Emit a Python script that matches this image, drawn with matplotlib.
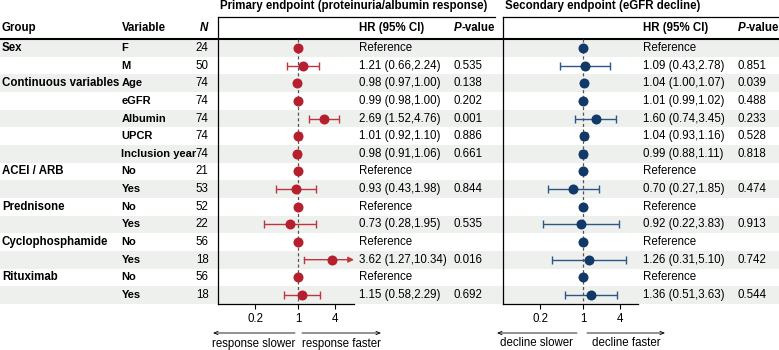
import numpy as np
import matplotlib
matplotlib.use("Agg")
import matplotlib.pyplot as plt
from matplotlib.patches import Rectangle

plt.rcParams['font.family'] = ['Liberation Sans', 'DejaVu Sans']
plt.rcParams['font.size'] = 8.3

nan = np.nan

# table data
groups = ["Sex", "", "Continuous variables", "", "", "", "", "ACEI / ARB", "",
          "Prednisone", "", "Cyclophosphamide", "", "Rituximab", ""]
variables = ["F", "M", "Age", "eGFR", "Albumin", "UPCR", "Inclusion year",
             "No", "Yes", "No", "Yes", "No", "Yes", "No", "Yes"]
n_pat = [24, 50, 74, 74, 74, 74, 74, 21, 53, 52, 22, 56, 18, 56, 18]

# primary endpoint
hr1 = [1, 1.21, 0.98, 0.99, 2.69, 1.01, 0.98, 1, 0.93, 1, 0.73, 1, 3.62, 1, 1.15]
lo1 = [nan, 0.66, 0.97, 0.98, 1.52, 0.92, 0.91, nan, 0.43, nan, 0.28, nan, 1.27, nan, 0.58]
hi1 = [nan, 2.24, 1.00, 1.00, 4.76, 1.10, 1.06, nan, 1.98, nan, 1.95, nan, 10.34, nan, 2.29]
p1 = ["", "0.535", "0.138", "0.202", "0.001", "0.886", "0.661", "", "0.844",
      "", "0.535", "", "0.016", "", "0.692"]

# secondary endpoint
hr2 = [1, 1.09, 1.04, 1.01, 1.60, 1.04, 0.99, 1, 0.70, 1, 0.92, 1, 1.26, 1, 1.36]
lo2 = [nan, 0.43, 1.00, 0.99, 0.74, 0.93, 0.88, nan, 0.27, nan, 0.22, nan, 0.31, nan, 0.51]
hi2 = [nan, 2.78, 1.07, 1.02, 3.45, 1.16, 1.11, nan, 1.85, nan, 3.83, nan, 5.10, nan, 3.63]
p2 = ["", "0.851", "0.039", "0.488", "0.233", "0.528", "0.818", "", "0.474",
      "", "0.913", "", "0.742", "", "0.544"]

W, H = 779, 350
fig = plt.figure(figsize=(W / 100, H / 100), dpi=100)

# background axes in pixel coords (for table, shading, lines)
bg = fig.add_axes([0, 0, 1, 1])
bg.set_xlim(0, W)
bg.set_ylim(H, 0)
bg.axis('off')

row_h = 17.64
rows_y = 48 + row_h * np.arange(len(variables))
shade = '#eef0ee'

for i, y in enumerate(rows_y):
    if i % 2 == 0:
        bg.add_patch(Rectangle((0, y - row_h / 2), W, row_h, color=shade, lw=0))
    bg.text(2, y, groups[i], weight='bold', va='center')
    bg.text(121.5, y, variables[i], weight='bold', va='center', fontsize=8.0)
    bg.text(208.5, y, str(n_pat[i]), ha='right', va='center')

# header
hy = 28
bg.text(2, hy, "Group", weight='bold', va='center')
bg.text(121.5, hy, "Variable", weight='bold', va='center')
bg.text(208.5, hy, "N", weight='bold', style='italic', ha='right', va='center')
bg.plot([0, W], [38.5, 38.5], color='black', lw=1.5)


def forest(x0, x1, line_end, hr, lo, hi, pv, col, ecol, title,
           x_hr, x_p, xlim, arrows):
    y_top, y_bot = 17, 304
    ax = fig.add_axes([x0 / W, 1 - y_bot / H, (x1 - x0) / W, (y_bot - y_top) / H])
    ax.set_facecolor('none')
    ax.set_xscale('log')
    ax.set_xlim(*xlim)
    ax.set_ylim(y_bot, y_top)
    for s in ['top', 'right']:
        ax.spines[s].set_visible(False)
    ax.spines['left'].set_linewidth(0.9)
    ax.spines['bottom'].set_linewidth(0.9)
    ax.set_yticks([])
    ax.set_xticks([0.2, 1, 4])
    ax.set_xticklabels(['0.2', '1', '4'])
    ax.minorticks_off()
    ax.tick_params(axis='x', length=3.5, width=0.8, labelsize=8.3, pad=3)

    ax.plot([1, 1], [rows_y[0] - row_h / 2, y_bot], color='#555555', lw=0.9,
            dashes=(2.5, 2), zorder=1)

    for i, y in enumerate(rows_y):
        if not np.isnan(lo[i]):
            if hi[i] > xlim[1]:
                ax.plot([lo[i], lo[i]], [y - 3, y + 3], color=ecol, lw=1)
                ax.annotate("", xy=(xlim[1], y), xytext=(lo[i], y),
                            arrowprops=dict(arrowstyle='-|>,head_length=0.4,head_width=0.2',
                                            color=ecol, lw=1, shrinkA=0, shrinkB=0))
            else:
                ax.errorbar(hr[i], y, xerr=[[hr[i] - lo[i]], [hi[i] - hr[i]]],
                            fmt='none', ecolor=ecol, elinewidth=1, capsize=3,
                            capthick=1, zorder=2)
        ax.plot(hr[i], y, 'o', color=col, ms=7.2, mec='none', zorder=3)
        txt = "Reference" if np.isnan(lo[i]) else f"{hr[i]:.2f} ({lo[i]:.2f},{hi[i]:.2f})"
        bg.text(x_hr, y, txt, va='center')
        bg.text(x_p, y, pv[i], va='center')

    bg.text(x0 + 2, 6.5, title, weight='bold', va='center')
    bg.plot([x0, line_end], [17, 17], color='black', lw=0.9)
    bg.text(x_hr, hy, "HR (95% CI)", weight='bold', va='center')
    bg.text(x_p, hy, "P", weight='bold', style='italic', va='center')
    bg.text(x_p + 7.6, hy, "-value", weight='bold', va='center')

    for a, b, t in arrows:
        bg.annotate("", xy=(b, 333), xytext=(a, 333),
                    arrowprops=dict(arrowstyle='->,head_length=0.35,head_width=0.15',
                                    color='black', lw=0.6, shrinkA=0, shrinkB=0))
        bg.text((a + b) / 2, 343.5, t, ha='center', va='center')
    return ax


forest(218, 354, 495, hr1, lo1, hi1, p1, '#b51f2e', '#c0343f',
       "Primary endpoint (proteinuria/albumin response)", 359, 454,
       (0.0487, 8.3),
       [(295, 213, "response slower"), (302, 381, "response faster")])

forest(503, 638, W, hr2, lo2, hi2, p2, '#113a68', '#2c5688',
       "Secondary endpoint (eGFR decline)", 643, 738,
       (0.05, 7.85),
       [(577, 497, "decline slower"), (587, 665, "decline faster")])

fig.savefig("out.png", dpi=100)
